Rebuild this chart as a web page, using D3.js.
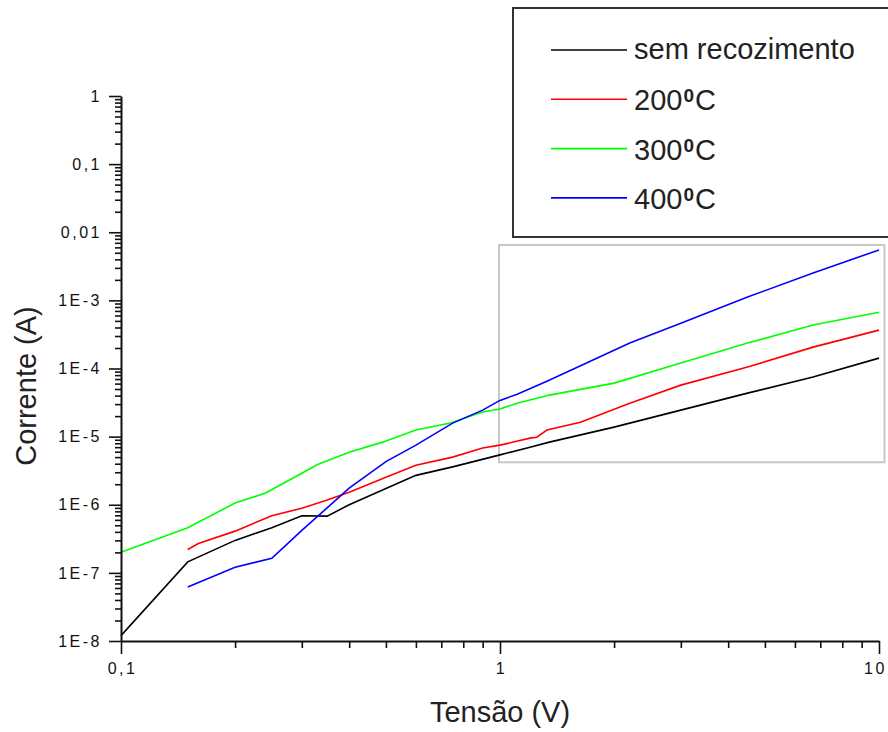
<!DOCTYPE html>
<html>
<head>
<meta charset="utf-8">
<script src="https://cdn.jsdelivr.net/npm/d3@7"></script>
<style>
  body { margin: 0; background: #fff; }
  svg { display: block; }
</style>
</head>
<body>
<div id="chart"></div>
<script>
// tensão (V) e corrente (A)
const blackV = [0.1, 0.15, 0.2, 0.25, 0.3, 0.35, 0.4, 0.6, 0.75, 1, 1.2, 1.35, 2, 3, 4.5, 6.7, 10]
const blackI = [1.2e-8, 1.45e-7, 3.0e-7, 4.6e-7, 6.9e-7, 6.8e-7, 1.0e-6, 2.7e-6, 3.6e-6, 5.4e-6, 7.0e-6, 8.3e-6, 1.38e-5, 2.45e-5, 4.35e-5, 7.5e-5, 1.42e-4]

const redV = [0.15, 0.16, 0.2, 0.25, 0.3, 0.35, 0.4, 0.5, 0.6, 0.75, 0.9, 1, 1.2, 1.25, 1.33, 1.63, 2.2, 3, 4.5, 6.7, 10]
const redI = [2.2e-7, 2.7e-7, 4.1e-7, 6.9e-7, 8.9e-7, 1.17e-6, 1.53e-6, 2.54e-6, 3.8e-6, 5.0e-6, 6.8e-6, 7.5e-6, 9.5e-6, 9.8e-6, 1.25e-5, 1.63e-5, 3.1e-5, 5.7e-5, 1.05e-4, 2.06e-4, 3.66e-4]

const greenV = [0.1, 0.15, 0.2, 0.24, 0.27, 0.3, 0.33, 0.4, 0.49, 0.6, 0.74, 0.9, 1, 1.11, 1.35, 2, 3, 4.5, 6.7, 10]
const greenI = [2.0e-7, 4.6e-7, 1.06e-6, 1.48e-6, 2.1e-6, 2.9e-6, 3.9e-6, 5.9e-6, 8.3e-6, 1.25e-5, 1.58e-5, 2.3e-5, 2.55e-5, 3.1e-5, 4.07e-5, 6.1e-5, 1.2e-4, 2.36e-4, 4.34e-4, 6.7e-4]

const blueV = [0.15, 0.2, 0.25, 0.3, 0.4, 0.5, 0.6, 0.75, 0.9, 1, 1.11, 1.33, 2.2, 3, 4.5, 6.7, 10]
const blueI = [6.2e-8, 1.21e-7, 1.64e-7, 4.2e-7, 1.75e-6, 4.3e-6, 7.5e-6, 1.58e-5, 2.45e-5, 3.4e-5, 4.2e-5, 6.5e-5, 2.36e-4, 4.6e-4, 1.12e-3, 2.52e-3, 5.5e-3]

const seriesNames = ['sem recozimento', '200°C', '300°C', '400°C']
const seriesColors = ['#000000', '#ff0000', '#00ff00', '#0000ff']

const xTickValues = [0.1, 1, 10]
const xTickLabels = ['0,1', '1', '10']
const yTickValues = [1, 0.1, 0.01, 1e-3, 1e-4, 1e-5, 1e-6, 1e-7, 1e-8]
const yTickLabels = ['1', '0,1', '0,01', '1E-3', '1E-4', '1E-5', '1E-6', '1E-7', '1E-8']

// caixa cinza (região destacada), em unidades dos dados
const insetV = [1, 10.4]
const insetI = [4.2e-6, 6.5e-3]

const W = 888, H = 732
const font = '"Liberation Sans", Arial, sans-serif'

const svg = d3.select('#chart').append('svg')
  .attr('width', W).attr('height', H)
  .style('font-family', font)

const x = d3.scaleLog().domain([0.1, 10]).range([121, 879])
const y = d3.scaleLog().domain([1e-8, 1]).range([641, 96])

// minor ticks 2..9 of every decade
const minorX = []
for (let d = 0.1; d < 10; d *= 10) for (let k = 2; k <= 9; k++) minorX.push(+(d * k).toPrecision(3))
const minorY = []
for (let d = 1e-8; d < 1; d *= 10) for (let k = 2; k <= 9; k++) minorY.push(d * k)

// inset box
svg.append('rect')
  .attr('x', x(insetV[0]) - 1)
  .attr('y', y(insetI[1]))
  .attr('width', x(insetV[1]) - x(insetV[0]))
  .attr('height', y(insetI[0]) - y(insetI[1]))
  .attr('fill', 'none')
  .attr('stroke', '#c8c8c8')
  .attr('stroke-width', 2)

// series
const series = [
  [blackV, blackI], [redV, redI], [greenV, greenI], [blueV, blueI]
]
const line = d3.line().x(d => x(d[0])).y(d => y(d[1]))
series.forEach((s, i) => {
  const pts = s[0].map((v, j) => [v, s[1][j]])
  svg.append('path')
    .datum(pts)
    .attr('d', line)
    .attr('fill', 'none')
    .attr('stroke', seriesColors[i])
    .attr('stroke-width', 1.6)
})

// minor ticks
svg.append('g')
  .attr('transform', `translate(0,${y(1e-8)})`)
  .call(d3.axisBottom(x).tickValues(minorX).tickSize(7).tickSizeOuter(0).tickFormat(''))
  .call(g => g.select('.domain').remove())
svg.append('g')
  .attr('transform', `translate(${x(0.1)},0)`)
  .call(d3.axisLeft(y).tickValues(minorY).tickSize(6).tickSizeOuter(0).tickFormat(''))
  .call(g => g.select('.domain').remove())

// major ticks + labels
const xAxis = svg.append('g')
  .attr('transform', `translate(0,${y(1e-8)})`)
  .call(d3.axisBottom(x).tickValues(xTickValues).tickSize(13).tickSizeOuter(0).tickPadding(9)
    .tickFormat((d, i) => xTickLabels[i]))
const yAxis = svg.append('g')
  .attr('transform', `translate(${x(0.1)},0)`)
  .call(d3.axisLeft(y).tickValues(yTickValues).tickSize(12).tickSizeOuter(0).tickPadding(9)
    .tickFormat((d, i) => yTickLabels[i]))

svg.selectAll('.tick line').attr('stroke', '#111').attr('stroke-width', 1.6)
svg.selectAll('.domain').attr('stroke', '#111').attr('stroke-width', 2)
svg.selectAll('.tick text')
  .style('font-family', font)
  .style('font-size', '16px')
  .style('letter-spacing', '2.5px')
  .attr('fill', '#111')
xAxis.selectAll('.tick text').attr('dx', (d, i) => i === xTickValues.length - 1 ? '-4px' : '1px')
yAxis.selectAll('.tick text').attr('dx', '2px')

// axis titles
svg.append('text')
  .attr('x', 500).attr('y', 722)
  .attr('text-anchor', 'middle')
  .style('font-size', '29px')
  .attr('fill', '#222')
  .text('Tensão (V)')

svg.append('text')
  .attr('transform', 'translate(36,386) rotate(-90)')
  .attr('text-anchor', 'middle')
  .style('font-size', '29px')
  .attr('fill', '#222')
  .text('Corrente (A)')

// legend
const lg = svg.append('g')
lg.append('rect')
  .attr('x', 513).attr('y', 8)
  .attr('width', 400).attr('height', 229)
  .attr('fill', '#fff')
  .attr('stroke', '#333')
  .attr('stroke-width', 2)

seriesNames.forEach((name, i) => {
  const ly = 50 + i * 49.3
  lg.append('line')
    .attr('x1', 551).attr('x2', 627)
    .attr('y1', ly).attr('y2', ly)
    .attr('stroke', seriesColors[i])
    .attr('stroke-width', 1.6)
  const t = lg.append('text')
    .attr('x', 634)
    .attr('y', ly + (i === 0 ? 9 : 11))
    .style('font-size', '29px')
    .attr('fill', '#222')
  const parts = name.split('°')
  if (parts.length === 1) {
    t.text(name)
  } else {
    t.append('tspan').text(parts[0])
    t.append('tspan').attr('dy', -8).attr('dx', 1).style('font-size', '19px').style('font-weight', 'bold').text('0')
    t.append('tspan').attr('dy', 8).attr('dx', 1).text(parts[1])
  }
})
</script>
</body>
</html>
